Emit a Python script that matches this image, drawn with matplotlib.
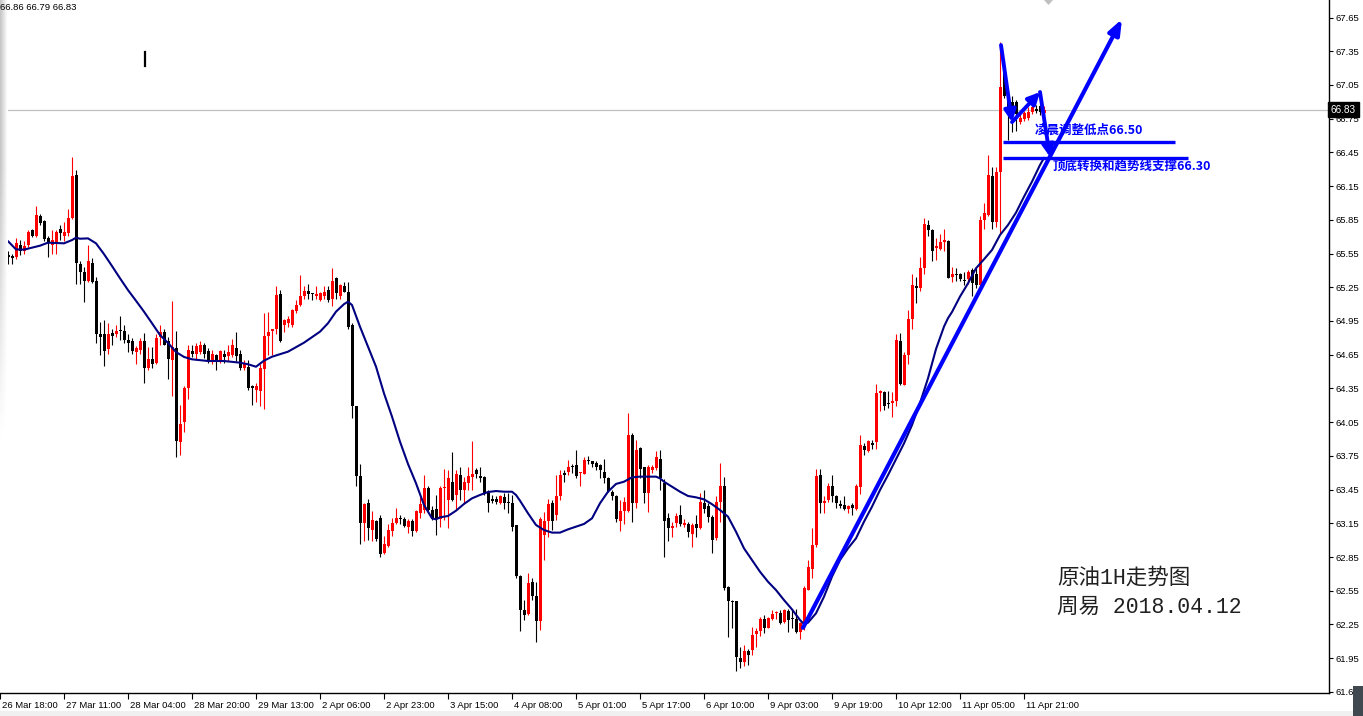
import numpy as np
import matplotlib
matplotlib.use("Agg")
import matplotlib.pyplot as plt
from matplotlib.patches import Polygon, Rectangle
from matplotlib.lines import Line2D
import matplotlib.transforms as mtransforms

# hourly crude oil candles, one row per bar (open, high, low, close)
opens = [65.46, 65.48, 65.54, 65.53, 65.52, 65.63, 65.57, 65.63, 65.76, 65.71,
         65.88, 65.84, 65.69, 65.63, 65.64, 65.77, 65.71, 65.73, 65.87, 66.25,
         65.46, 65.39, 65.31, 65.47, 65.31, 64.83, 64.83, 64.70, 64.84, 64.83,
         64.87, 64.86, 64.78, 64.77, 64.67, 64.69, 64.77, 64.53, 64.61, 64.58,
         64.81, 64.85, 64.77, 64.60, 64.71, 63.87, 64.05, 64.35, 64.68, 64.66,
         64.67, 64.74, 64.68, 64.59, 64.65, 64.59, 64.66, 64.64, 64.65, 64.71,
         64.66, 64.53, 64.54, 64.37, 64.34, 64.33, 64.52, 64.82, 64.865, 64.88,
         65.19, 64.91, 64.93, 64.91, 65.04, 65.09, 65.17, 65.22, 65.20, 65.17,
         65.14, 65.17, 65.23, 65.15, 65.33, 65.17, 65.26, 65.21, 64.91, 64.19,
         63.57, 63.15, 63.33, 63.09, 63.17, 63.20, 62.89, 62.95, 63.08, 63.15,
         63.195, 63.19, 63.12, 63.17, 63.08, 63.24, 63.27, 63.46, 63.27, 63.28,
         63.19, 63.46, 63.36, 63.52, 63.40, 63.58, 63.45, 63.51, 63.56, 63.62,
         63.57, 63.56, 63.42, 63.37, 63.37, 63.33, 63.38, 63.34, 63.33, 63.135,
         62.68, 62.38, 62.34, 62.63, 62.50, 62.28, 63.05, 63.17, 63.33, 63.22,
         63.39, 63.60, 63.61, 63.66, 63.67, 63.595, 63.59, 63.71, 63.70, 63.69,
         63.67, 63.61, 63.55, 63.43, 63.39, 63.17, 63.26, 63.26, 63.94, 63.33,
         63.82, 63.65, 63.42, 63.62, 63.64, 63.72, 63.51, 63.20, 63.105, 63.15,
         63.22, 63.135, 63.14, 63.055, 63.144, 63.11, 63.33, 63.30, 63.21, 63.02,
         63.34, 63.48, 62.58, 62.46, 62.46, 61.95, 61.92, 62.01, 62.02, 62.165,
         62.19, 62.30, 62.22, 62.30, 62.35, 62.355, 62.27, 62.37, 62.31, 62.30,
         62.185, 62.25, 62.56, 62.74, 62.96, 63.58, 63.33, 63.36, 63.48, 63.39,
         63.32, 63.31, 63.28, 63.31, 63.28, 63.47, 63.84, 63.79, 63.86, 63.87,
         64.31, 64.32, 64.22, 64.22, 64.24, 64.77, 64.38, 64.65, 64.97, 65.26,
         65.24, 65.42, 65.80, 65.76, 65.60, 65.59, 65.65, 65.66, 65.34, 65.37,
         65.37, 65.315, 65.32, 65.40, 65.37, 65.27, 65.85, 65.89, 66.24, 65.83,
         66.28, 67.18, 66.93, 66.90, 66.90, 66.72, 66.75, 66.76, 66.81, 66.84,
         66.86, 66.80]
highs = [65.76, 65.60, 65.57, 65.55, 65.69, 65.67, 65.66, 65.76, 65.77, 65.97,
         65.90, 65.85, 65.71, 65.76, 65.76, 65.80, 65.83, 65.95, 66.41, 66.29,
         65.48, 65.43, 65.63, 65.51, 65.34, 64.94, 64.96, 64.93, 64.88, 64.91,
         64.99, 64.91, 64.83, 64.80, 64.73, 64.80, 64.84, 64.72, 64.72, 64.83,
         64.91, 64.88, 64.81, 65.13, 64.86, 64.20, 64.37, 64.74, 64.74, 64.75,
         64.77, 64.75, 64.71, 64.69, 64.66, 64.69, 64.69, 64.74, 64.79, 64.85,
         64.69, 64.60, 64.60, 64.38, 64.40, 64.57, 65.02, 65.03, 64.88, 65.26,
         65.23, 64.97, 64.99, 65.06, 65.14, 65.36, 65.26, 65.28, 65.20, 65.26,
         65.21, 65.26, 65.26, 65.42, 65.34, 65.28, 65.30, 65.30, 64.93, 64.19,
         63.68, 63.33, 63.37, 63.26, 63.18, 63.22, 63.04, 63.14, 63.20, 63.29,
         63.22, 63.21, 63.19, 63.19, 63.27, 63.38, 63.58, 63.48, 63.30, 63.40,
         63.48, 63.63, 63.62, 63.78, 63.62, 63.65, 63.56, 63.65, 63.88, 63.64,
         63.65, 63.57, 63.45, 63.40, 63.39, 63.40, 63.42, 63.42, 63.40, 63.135,
         62.69, 62.47, 62.71, 62.66, 62.63, 63.21, 63.25, 63.37, 63.36, 63.58,
         63.62, 63.62, 63.71, 63.68, 63.80, 63.61, 63.74, 63.75, 63.70, 63.70,
         63.68, 63.72, 63.56, 63.45, 63.40, 63.36, 63.38, 64.13, 63.95, 63.89,
         63.83, 63.65, 63.67, 63.67, 63.79, 63.80, 63.54, 63.24, 63.165, 63.24,
         63.31, 63.19, 63.165, 63.156, 63.224, 63.42, 63.45, 63.33, 63.22, 63.39,
         63.69, 63.56, 62.59, 62.47, 62.46, 62.05, 62.07, 62.03, 62.23, 62.22,
         62.32, 62.33, 62.32, 62.38, 62.37, 62.38, 62.39, 62.39, 62.39, 62.39,
         62.27, 62.59, 62.82, 63.11, 63.63, 63.63, 63.39, 63.51, 63.58, 63.40,
         63.36, 63.39, 63.31, 63.33, 63.50, 63.94, 63.86, 63.89, 63.89, 64.39,
         64.34, 64.33, 64.33, 64.32, 64.83, 64.84, 64.67, 65.05, 65.37, 65.34,
         65.52, 65.87, 65.85, 65.77, 65.69, 65.72, 65.77, 65.67, 65.43, 65.42,
         65.38, 65.39, 65.40, 65.42, 65.42, 65.88, 66.00, 66.43, 66.32, 66.32,
         67.43, 67.28, 66.95, 66.95, 66.92, 66.80, 66.82, 66.85, 66.89, 66.87,
         66.88, 66.86]
lows = [65.36, 65.45, 65.46, 65.46, 65.50, 65.54, 65.55, 65.61, 65.70, 65.70,
        65.80, 65.66, 65.52, 65.55, 65.55, 65.67, 65.66, 65.71, 65.86, 65.28,
        65.28, 65.12, 65.30, 65.29, 64.75, 64.65, 64.55, 64.66, 64.74, 64.81,
        64.78, 64.75, 64.67, 64.66, 64.57, 64.66, 64.40, 64.51, 64.53, 64.57,
        64.74, 64.74, 64.43, 64.28, 63.74, 63.76, 63.96, 64.26, 64.63, 64.60,
        64.66, 64.62, 64.58, 64.57, 64.51, 64.58, 64.58, 64.59, 64.63, 64.59,
        64.51, 64.51, 64.34, 64.20, 64.23, 64.19, 64.17, 64.65, 64.65, 64.83,
        64.76, 64.85, 64.90, 64.90, 65.02, 65.08, 65.15, 65.15, 65.14, 65.15,
        65.13, 65.15, 65.12, 65.08, 65.15, 65.15, 65.21, 64.88, 64.09, 63.48,
        62.97, 62.99, 63.00, 62.99, 62.99, 62.85, 62.88, 62.94, 63.04, 63.14,
        63.14, 63.12, 63.06, 63.04, 63.07, 63.20, 63.24, 63.24, 63.18, 63.05,
        63.12, 63.18, 63.11, 63.35, 63.27, 63.36, 63.33, 63.45, 63.45, 63.55,
        63.52, 63.40, 63.25, 63.33, 63.32, 63.32, 63.28, 63.24, 63.08, 62.66,
        62.19, 62.29, 62.33, 62.47, 62.09, 62.20, 62.82, 63.03, 63.09, 63.18,
        63.36, 63.52, 63.58, 63.60, 63.55, 63.48, 63.59, 63.68, 63.65, 63.62,
        63.55, 63.51, 63.43, 63.36, 63.16, 63.08, 63.14, 63.25, 63.16, 63.29,
        63.55, 63.33, 63.25, 63.60, 63.62, 63.45, 62.85, 62.99, 63.025, 63.12,
        63.125, 63.12, 63.025, 62.942, 63.031, 63.10, 63.24, 63.16, 62.89, 63.00,
        63.16, 62.56, 62.14, 62.22, 61.84, 61.86, 61.88, 61.89, 61.98, 62.05,
        62.15, 62.17, 62.215, 62.29, 62.30, 62.25, 62.26, 62.18, 62.215, 62.17,
        62.12, 62.20, 62.555, 62.66, 62.94, 63.24, 63.24, 63.34, 63.34, 63.29,
        63.29, 63.27, 63.24, 63.22, 63.27, 63.41, 63.76, 63.78, 63.81, 63.81,
        64.15, 64.16, 64.18, 64.10, 64.19, 64.38, 64.38, 64.57, 64.88, 65.11,
        65.22, 65.37, 65.71, 65.48, 65.49, 65.58, 65.57, 65.33, 65.30, 65.31,
        65.31, 65.27, 65.28, 65.17, 65.24, 65.26, 65.77, 65.88, 65.77, 65.79,
        65.72, 66.93, 66.56, 66.63, 66.64, 66.70, 66.73, 66.74, 66.79, 66.80,
        66.78, 66.79]
closes = [65.63, 65.55, 65.52, 65.51, 65.64, 65.57, 65.62, 65.74, 65.71, 65.89,
          65.82, 65.68, 65.64, 65.67, 65.74, 65.73, 65.74, 65.87, 66.24, 65.47,
          65.39, 65.31, 65.48, 65.30, 64.83, 64.81, 64.68, 64.83, 64.82, 64.86,
          64.86, 64.78, 64.75, 64.68, 64.71, 64.77, 64.53, 64.61, 64.57, 64.80,
          64.85, 64.74, 64.61, 64.72, 63.88, 64.03, 64.35, 64.69, 64.66, 64.73,
          64.74, 64.66, 64.60, 64.66, 64.59, 64.68, 64.63, 64.67, 64.74, 64.64,
          64.53, 64.57, 64.35, 64.35, 64.37, 64.53, 64.82, 64.85, 64.88, 65.18,
          64.77, 64.96, 64.97, 65.05, 65.09, 65.17, 65.22, 65.19, 65.19, 65.19,
          65.20, 65.21, 65.14, 65.31, 65.20, 65.27, 65.21, 64.90, 64.19, 63.57,
          63.15, 63.32, 63.11, 63.18, 63.01, 62.88, 62.97, 63.09, 63.15, 63.20,
          63.185, 63.13, 63.17, 63.08, 63.26, 63.32, 63.46, 63.27, 63.19, 63.19,
          63.46, 63.47, 63.55, 63.36, 63.59, 63.45, 63.52, 63.57, 63.59, 63.59,
          63.55, 63.42, 63.33, 63.35, 63.34, 63.39, 63.33, 63.33, 63.12, 62.68,
          62.38, 62.33, 62.62, 62.50, 62.28, 63.19, 63.17, 63.32, 63.17, 63.39,
          63.58, 63.58, 63.65, 63.65, 63.57, 63.603, 63.71, 63.70, 63.68, 63.65,
          63.62, 63.55, 63.44, 63.39, 63.185, 63.26, 63.34, 63.94, 63.33, 63.80,
          63.63, 63.42, 63.65, 63.65, 63.74, 63.55, 63.17, 63.105, 63.126, 63.215,
          63.14, 63.155, 63.07, 63.135, 63.105, 63.34, 63.28, 63.21, 63.00, 63.34,
          63.48, 62.57, 62.46, 62.45, 61.96, 61.92, 62.01, 61.98, 62.16, 62.19,
          62.30, 62.215, 62.31, 62.34, 62.36, 62.26, 62.38, 62.29, 62.295, 62.18,
          62.26, 62.57, 62.76, 62.96, 63.57, 63.33, 63.35, 63.48, 63.39, 63.33,
          63.30, 63.28, 63.30, 63.29, 63.48, 63.85, 63.80, 63.88, 63.85, 64.31,
          64.33, 64.19, 64.21, 64.24, 64.78, 64.39, 64.65, 64.97, 65.27, 65.24,
          65.42, 65.81, 65.76, 65.57, 65.62, 65.65, 65.67, 65.33, 65.37, 65.36,
          65.32, 65.31, 65.39, 65.29, 65.27, 65.85, 65.91, 66.25, 65.83, 66.28,
          67.03, 66.95, 66.80, 66.77, 66.79, 66.76, 66.80, 66.81, 66.85, 66.82,
          66.81, 66.83]

# moving average (bar index, value)
ma_bars = [0, 2, 4, 6, 8, 10, 12, 16, 18, 19, 20, 22, 24, 26, 28, 30, 32, 34,
           36, 38, 40, 42, 44, 46, 48, 52, 56, 60, 62, 64, 66, 68, 72, 76, 80,
           82, 84, 86, 87, 88, 90, 92, 94, 96, 98, 100, 102, 104, 106, 108, 109,
           110, 112, 114, 116, 118, 120, 122, 124, 126, 128, 129, 130, 132, 134,
           136, 138, 140, 142, 144, 146, 148, 150, 152, 154, 156, 158, 160, 164,
           165, 166, 168, 170, 172, 174, 176, 178, 180, 182, 184, 186, 188, 190,
           192, 194, 196, 198, 200, 201, 202, 204, 206, 208, 210, 212, 214, 216,
           218, 220, 222, 224, 226, 228, 230, 232, 234, 236, 237, 238, 240, 242,
           244, 246, 248, 250, 252, 254, 256, 258, 260, 261]
ma_vals = [65.694, 65.66, 65.587, 65.585, 65.602, 65.62, 65.647, 65.641, 65.67,
           65.691, 65.682, 65.685, 65.641, 65.545, 65.439, 65.33, 65.225, 65.13,
           65.033, 64.93, 64.825, 64.755, 64.674, 64.63, 64.609, 64.594, 64.594,
           64.579, 64.565, 64.543, 64.597, 64.632, 64.677, 64.757, 64.855, 64.93,
           65.033, 65.10, 65.122, 65.092, 64.899, 64.721, 64.544, 64.306, 64.099,
           63.876, 63.678, 63.506, 63.313, 63.194, 63.185, 63.203, 63.215, 63.262,
           63.322, 63.372, 63.402, 63.428, 63.437, 63.431, 63.431, 63.402, 63.351,
           63.239, 63.135, 63.09, 63.067, 63.067, 63.096, 63.12, 63.144, 63.194,
           63.328, 63.431, 63.50, 63.52, 63.559, 63.565, 63.565, 63.55, 63.52,
           63.476, 63.431, 63.393, 63.381, 63.363, 63.32, 63.268, 63.209, 63.075,
           62.927, 62.823, 62.719, 62.63, 62.556, 62.467, 62.384, 62.289, 62.254,
           62.266, 62.349, 62.497, 62.675, 62.823, 62.927, 63.016, 63.164, 63.298,
           63.446, 63.579, 63.719, 63.861, 64.024, 64.22, 64.44, 64.70, 64.90,
           64.975, 65.03, 65.167, 65.285, 65.419, 65.499, 65.582, 65.715, 65.804,
           65.914, 66.056, 66.19, 66.338, 66.40]

price_ticks = [61.65, 61.95, 62.25, 62.55, 62.85, 63.15, 63.45, 63.75, 64.05,
               64.35, 64.65, 64.95, 65.25, 65.55, 65.85, 66.15, 66.45, 66.75,
               67.05, 67.35, 67.65]
time_labels = ["26 Mar 18:00", "27 Mar 11:00", "28 Mar 04:00", "28 Mar 20:00",
               "29 Mar 13:00", "2 Apr 06:00", "2 Apr 23:00", "3 Apr 15:00",
               "4 Apr 08:00", "5 Apr 01:00", "5 Apr 17:00", "6 Apr 10:00",
               "9 Apr 03:00", "9 Apr 19:00", "10 Apr 12:00", "11 Apr 05:00",
               "11 Apr 21:00"]
time_label_bars = list(range(0, 257, 16))

last_price = 66.83
hlc_text = "66.86 66.79 66.83"

# hand drawn analysis objects (bar index, price)
trend_start = (200.75, 62.22)
trend_end = (280.5, 67.636)
zigzag = [(250.25, 67.405), (253.0, 66.72), (260.0, 66.987), (262.5, 66.409)]
support_lines = [(250.75, 293.75, 66.542), (250.75, 297.0, 66.40)]
notes = [("凌晨调整低点66.50", 258.75, 66.649), ("顶底转换和趋势线支撑66.30", 263.25, 66.329)]
title_lines = [("原油1H走势图", 264.25, 62.663), ("周易 2018.04.12", 264.25, 62.405)]

W, H = 1363, 716
fig = plt.figure(figsize=(W / 100, H / 100), dpi=100)
fig.patch.set_facecolor("white")
ax = fig.add_axes([0, 23 / H, 1329 / W, 693 / H])
ax.set_facecolor("white")
ax.set_xlim(0, 1329 / 4)
ax.set_ylim(61.640, 67.806)

o = np.array(opens)
h = np.array(highs)
l = np.array(lows)
c = np.array(closes)
x = np.arange(len(o))
up = c >= o
cols = np.where(up, "#ff0000", "#000000")

ax.axhline(last_price, color="#c0c0c0", lw=0.9, zorder=0)
ax.vlines(x, l, h, colors=cols, lw=0.8, zorder=2)
body_bottom = np.minimum(o, c)
body_h = np.maximum(np.abs(c - o), 0.009)
ax.bar(x, body_h, bottom=body_bottom, width=0.75, color=cols, linewidth=0, zorder=3)

ax.plot(ma_bars, ma_vals, color="#000080", lw=1.5, zorder=4)

blue = "#0000ff"
ax.annotate("", xy=trend_end, xytext=trend_start,
            arrowprops=dict(arrowstyle="-|>,head_length=0.9,head_width=0.35",
                            lw=3, color=blue, shrinkA=0, shrinkB=0), zorder=6)
for p0, p1 in zip(zigzag[:-1], zigzag[1:]):
    ax.annotate("", xy=p1, xytext=p0,
                arrowprops=dict(arrowstyle="-|>,head_length=0.7,head_width=0.35",
                                lw=2.8, color=blue, shrinkA=0, shrinkB=0), zorder=6)
for x0, x1, yv in support_lines:
    ax.plot([x0, x1], [yv, yv], color=blue, lw=2.4, solid_capstyle="butt", zorder=6)

for txt, tx, ty in notes:
    ax.text(tx, ty, txt, color=blue, fontsize=9, fontweight="bold",
            family=["Noto Sans CJK SC", "DejaVu Sans"], va="center", ha="left", zorder=7)
for txt, tx, ty in title_lines:
    ax.text(tx, ty, txt, color="#202020", fontsize=15.5,
            family=["Liberation Mono", "Noto Sans CJK SC"], va="center", ha="left", zorder=7)

# axes frame like the terminal: right and bottom only
for side in ["top", "left"]:
    ax.spines[side].set_visible(False)
for side in ["right", "bottom"]:
    ax.spines[side].set_color("black")
    ax.spines[side].set_linewidth(1.0)

ax.yaxis.tick_right()
ax.set_yticks(price_ticks)
ax.set_yticklabels([f"{v:.2f}" for v in price_ticks])
ax.tick_params(axis="y", length=3, width=0.8, pad=2, labelsize=6.8, colors="black")
ax.set_xticks(time_label_bars)
ax.set_xticklabels(time_labels)
ax.tick_params(axis="x", length=4, width=0.8, pad=2, labelsize=6.8, colors="black")
offset = mtransforms.ScaledTranslation(2 / 100, 0, fig.dpi_scale_trans)
for lab in ax.get_xticklabels():
    lab.set_horizontalalignment("left")
    lab.set_transform(lab.get_transform() + offset)
for lab in ax.get_xticklabels() + ax.get_yticklabels():
    lab.set_family("Liberation Sans")

# current price box
yx = mtransforms.blended_transform_factory(ax.transAxes, ax.transData)
ax.text(1.0015, last_price, "66.83", transform=yx, color="white", fontsize=7.2,
        family="Liberation Sans", va="center", ha="left", clip_on=False, zorder=10,
        bbox=dict(boxstyle="square,pad=0.25", fc="black", ec="black"))

# window decorations
fig.text(0.5 / W, 1 - 7 / H, hlc_text, fontsize=6.8, family="Liberation Sans",
         va="center", ha="left", color="black")
fig.add_artist(Line2D([145 / W, 145 / W], [1 - 52 / H, 1 - 66 / H], lw=1.6, color="black"))
fig.add_artist(Polygon([[1044 / W, 1.0], [1053 / W, 1.0], [1048.5 / W, 1 - 5 / H]],
                       closed=True, fc="#c0c0c0", ec="none", transform=fig.transFigure))
fig.add_artist(Rectangle((0, 0), 1, 5 / H, fc="#f0f0f0", ec="none", transform=fig.transFigure))
fig.add_artist(Rectangle((1353 / W, 0), 10 / W, 30 / H, fc="#404850", ec="none",
                         transform=fig.transFigure))

sh = fig.add_axes([0, 1 - 440 / H, 8 / W, 440 / H])
gx = np.linspace(0, 1, 8)[None, :]
gy = np.clip(np.linspace(1.6, 0, 60), 0, 1)[:, None]
shade = 1 - 0.22 * (1 - gx) * gy
sh.imshow(shade, cmap="gray", vmin=0, vmax=1, aspect="auto", interpolation="bilinear")
sh.axis("off")

fig.savefig("out.png", dpi=100, facecolor="white")
